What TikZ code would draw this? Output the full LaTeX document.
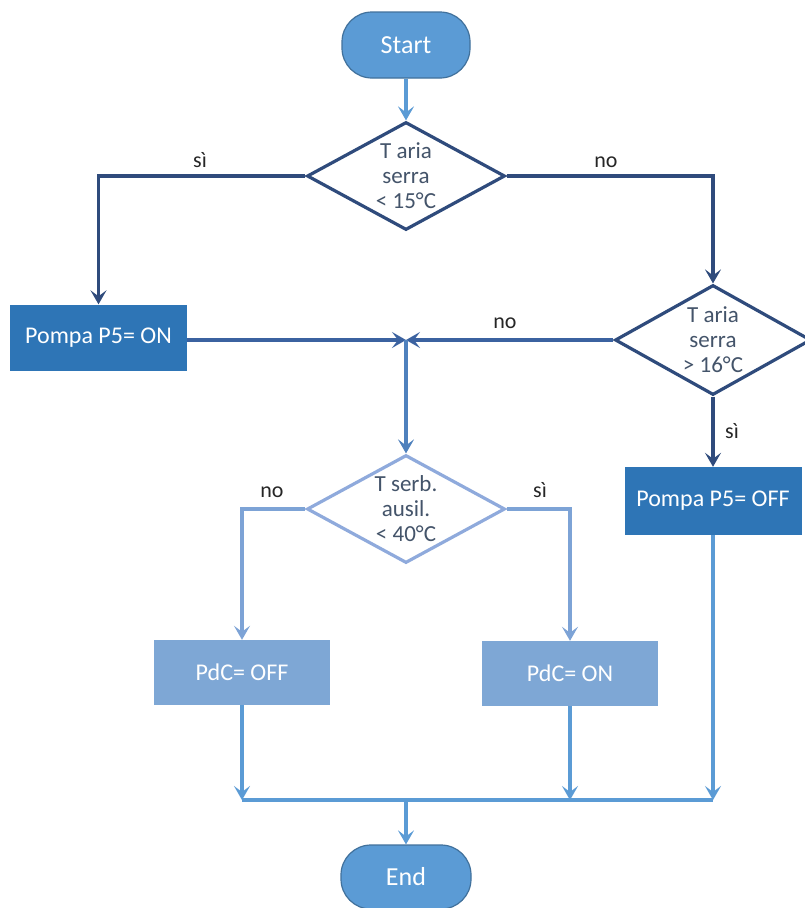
\documentclass[tikz,border=0pt]{standalone}
\usepackage{fontspec}
\setmainfont{Carlito}
\usetikzlibrary{shapes.geometric,arrows.meta}
\definecolor{termfill}{HTML}{5B9BD5}
\definecolor{termline}{HTML}{41719C}
\definecolor{boxdark}{HTML}{2E75B6}
\definecolor{boxlight}{HTML}{7EA7D5}
\definecolor{decdark}{HTML}{2F4B7C}
\definecolor{declight}{HTML}{8FAADC}
\definecolor{dectext}{HTML}{44546A}
\definecolor{lnnavy}{HTML}{3B62A0}
\definecolor{lnmid}{HTML}{4F81BD}
\definecolor{lnlight}{HTML}{7DA3D6}
\definecolor{lnbase}{HTML}{5B9BD5}
\begin{document}
\begin{tikzpicture}[x=1pt,y=-1pt,
  term/.style={rectangle, rounded corners=30pt, fill=termfill, draw=termline, line width=1.2pt, text=white, font=\fontsize{26}{28}\selectfont, minimum width=128pt, minimum height=66pt, inner sep=0pt},
  darkbox/.style={rectangle, fill=boxdark, text=white, font=\fontsize{24}{26}\selectfont, minimum width=177pt, minimum height=66pt, inner sep=0pt},
  lightbox/.style={rectangle, fill=boxlight, text=white, font=\fontsize{24}{26}\selectfont, minimum width=176pt, minimum height=65pt, inner sep=0pt},
  dec/.style={diamond, minimum width=198pt, minimum height=108pt, inner sep=0pt, fill=white, line width=3.2pt},
  dtext/.style={align=center, font=\fontsize{23}{25}\selectfont, text=dectext, inner sep=0pt},
  lab/.style={font=\fontsize{22}{24}\selectfont, text=black!85, anchor=base, inner sep=0pt},
  arr/.style={line width=3.2pt, -{Stealth[length=14pt,width=16pt,inset=6pt]}},
  ln/.style={line width=3.2pt},
]
\fill[white] (0,0) rectangle (804,908);
\useasboundingbox (0,0) rectangle (804,908);

% nodes
\node[term] (start) at (406,45) {Start};
\node[dec, draw=decdark] (d1) at (406,176) {};
\node[dtext] (d1t) at (406,176) {T aria\\serra\\< 15°C};
\node[darkbox] (on) at (98.5,337.5) {Pompa P5= ON};
\node[dec, draw=decdark, minimum width=196pt, minimum height=110pt] (d2) at (713,340) {};
\node[dtext] (d2t) at (713,340) {T aria\\serra\\> 16°C};
\node[darkbox, minimum height=68pt] (off) at (713,501) {Pompa P5= OFF};
\node[dec, draw=declight] (d3) at (406,509) {};
\node[dtext] (d3t) at (406,509) {T serb.\\ausil.\\< 40°C};
\node[lightbox] (pdcoff) at (242,672.5) {PdC= OFF};
\node[lightbox] (pdcon) at (570,673.5) {PdC= ON};
\node[term, minimum width=130pt, minimum height=64pt] (end) at (406,877) {End};

\coordinate (j) at (406,340);
\coordinate (b1) at (242,800);
\coordinate (b2) at (570,800);
\coordinate (b3) at (713,800);
\coordinate (bm) at (406,800);

% labels
\node[lab] (l1) at (200,167) {sì};
\node[lab] (l2) at (606,167) {no};
\node[lab] (l3) at (505,328) {no};
\node[lab] (l4) at (732,438) {sì};
\node[lab] (l5) at (272,497) {no};
\node[lab] (l6) at (540,497) {sì};

% connectors
\draw[arr, lnbase] (start) -- (d1);
\draw[arr, decdark] (d1.west) -| (on.north);
\draw[arr, decdark] (d1.east) -| (d2.north);
\draw[arr, lnnavy] (on.east |- j) -- (j);
\draw[arr, lnnavy] (d2.west) -- (j);
\draw[arr, lnmid] (j) -- (d3.north);
\draw[arr, decdark] (d2.south) -- (off.north);
\draw[arr, lnlight] (d3.west) -| (pdcoff.north);
\draw[arr, lnlight] (d3.east) -| (pdcon.north);
\draw[arr, lnbase] (pdcoff.south) -- (b1);
\draw[arr, lnbase] (pdcon.south) -- (b2);
\draw[arr, lnbase] (off.south) -- (b3);
\draw[ln, lnbase] (b1) -- (b3);
\draw[arr, lnbase] (bm) -- (end.north);
\end{tikzpicture}
\end{document}
